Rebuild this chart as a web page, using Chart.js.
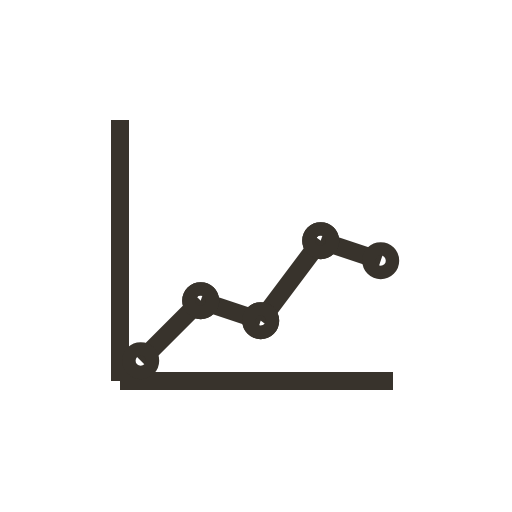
<!DOCTYPE html>
<html>
<head>
<meta charset="utf-8">
<style>
  html, body { margin: 0; padding: 0; background: #fff; }
  #wrap { width: 512px; height: 512px; }
</style>
<script src="https://cdn.jsdelivr.net/npm/chart.js@4"></script>
</head>
<body>
<div id="wrap"><canvas id="myChart" width="512" height="512"></canvas></div>
<script>
const positions = [1, 2, 3, 4, 5];
const values = [1, 4, 3, 7, 6];
const ink = '#38332c';

// one dataset per segment, the source icon has no joins between its lines
const segments = positions.slice(1).map((p, i) => ({
  data: [
    { x: positions[i], y: values[i] },
    { x: p, y: values[i + 1] }
  ],
  borderColor: ink,
  borderWidth: 18,
  tension: 0,
  pointRadius: 11.8,
  pointBorderWidth: 13.4,
  pointBorderColor: ink,
  pointBackgroundColor: 'rgba(0,0,0,0)',
  clip: false
}));

const xMin = 1 - 11.7 / 60;
const xMax = xMin + 264 / 60;
const yMin = 1 - 20.3 / 20;
const yMax = yMin + 252 / 20;

const axis = (min, max, position) => ({
  type: 'linear',
  min: min,
  max: max,
  position: position,
  grid: { display: false, lineWidth: 0 },
  ticks: { display: false },
  border: { display: true, width: 18, color: ink }
});

new Chart(document.getElementById('myChart').getContext('2d'), {
  type: 'line',
  data: { datasets: segments },
  options: {
    responsive: false,
    animation: false,
    devicePixelRatio: 1,
    layout: { padding: { left: 129, top: 129, right: 119, bottom: 131 } },
    plugins: { legend: { display: false }, tooltip: { enabled: false } },
    scales: {
      // the y axis sits left of where the x axis starts, as in the icon
      x: axis(xMin, xMax, { y: yMin }),
      y: axis(yMin, yMax, { x: xMin - 9 / 60 })
    }
  }
});
</script>
</body>
</html>
